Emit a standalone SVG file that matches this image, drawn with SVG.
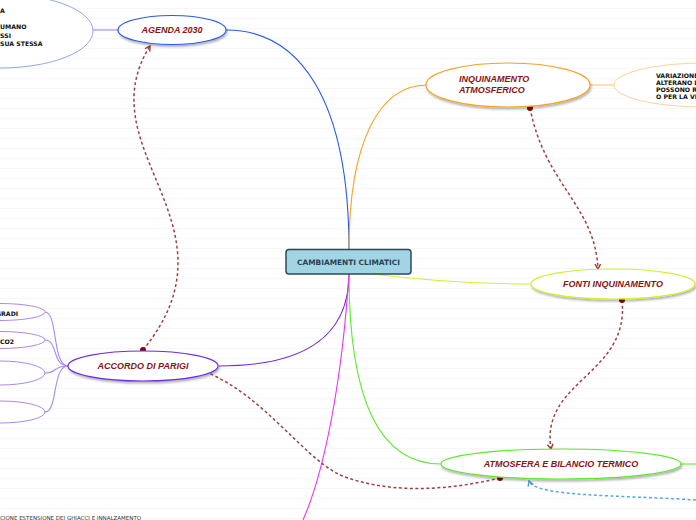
<svg xmlns="http://www.w3.org/2000/svg" width="696" height="520" viewBox="0 0 696 520">
<defs>
<pattern id="rule" width="696" height="10" patternUnits="userSpaceOnUse">
<rect width="696" height="10" fill="#ffffff"/>
<line x1="0" y1="8.5" x2="696" y2="8.5" stroke="#f7f7f7" stroke-width="1"/>
</pattern>
<filter id="sh" x="-10%" y="-30%" width="120%" height="170%">
<feDropShadow dx="1" dy="2" stdDeviation="1.3" flood-color="#000" flood-opacity="0.3"/>
</filter>
<marker id="arr" viewBox="0 0 10 10" refX="8" refY="5" markerWidth="7" markerHeight="7" orient="auto-start-reverse" markerUnits="userSpaceOnUse">
<path d="M1,1 L8,5 L1,9" fill="none" stroke="#a03a3a" stroke-width="2"/>
</marker>
<marker id="arrb" viewBox="0 0 10 10" refX="8" refY="5" markerWidth="7" markerHeight="7" orient="auto-start-reverse" markerUnits="userSpaceOnUse">
<path d="M1,1 L8,5 L1,9" fill="none" stroke="#4a9ad6" stroke-width="2"/>
</marker>
</defs>
<style>
.lbl{font-family:"Liberation Sans",Arial,sans-serif;font-size:9px;font-weight:bold;font-style:italic;fill:#8b1414}
.sm{font-family:"DejaVu Sans",Verdana,sans-serif;font-size:6.2px;font-weight:bold;fill:#111}
.tiny{font-family:"DejaVu Sans",Verdana,sans-serif;font-size:5.5px;fill:#333}
.el{fill:#ffffff;stroke-width:1.2}
.rel{fill:none;stroke:#a04040;stroke-width:1.5;stroke-dasharray:3 2.5}
.br{fill:none;stroke-width:1.1}
</style>
<rect width="696" height="520" fill="url(#rule)"/>

<g id="connectors">
<path class="br" stroke="#2a5ae8" d="M349,250 C349,100 300,30 226,30"/>
<path class="br" stroke="#f5a321" d="M349,250 C349,140 380,85 427,85"/>
<path class="br" stroke="#d4f02a" d="M372,274 C420,280 480,284 532,284"/>
<path class="br" stroke="#6a2ae8" d="M349,274 C349,340 300,366 219,366"/>
<path class="br" stroke="#5cea2c" d="M349,274 C349,400 380,464 441,464"/>
<path class="br" stroke="#ee33ee" d="M349,274 C342,380 325,470 303,520"/>
<path class="br" stroke="#5cea2c" d="M681,464 L696,464"/>
<path class="br" stroke="#9a86ee" d="M93,30 L118,30"/>
<path class="br" stroke="#fbc878" d="M590,85 L614,85"/>
<path class="br" stroke="#a98af0" d="M45,312 C58,312 52,366 68,366"/>
<path class="br" stroke="#a98af0" d="M45,340 C58,340 52,366 68,366"/>
<path class="br" stroke="#a98af0" d="M45,373 C58,373 52,366 68,366"/>
<path class="br" stroke="#a98af0" d="M45,412 C58,412 52,366 68,366"/>
<path class="rel" d="M143,350 C245,225 85,150 150,46" marker-end="url(#arr)"/>
<path class="rel" d="M530,108 C545,185 595,205 598,269" marker-end="url(#arr)"/>
<path class="rel" d="M622,300 C630,375 540,380 551,449" marker-end="url(#arr)"/>
<path class="rel" d="M500,478 C450,490 390,495 340,475 C300,455 260,390 198,369" marker-end="url(#arr)"/>
<path fill="none" stroke="#55a8e0" stroke-width="1.5" stroke-dasharray="3 2.5" d="M696,500 C620,495 535,497 529,481" marker-end="url(#arrb)"/>
<circle cx="143" cy="350" r="3" fill="#8b0a0a"/>
<circle cx="530" cy="108" r="3" fill="#8b0a0a"/>
<circle cx="622" cy="300" r="3" fill="#8b0a0a"/>
<circle cx="500" cy="478" r="3" fill="#8b0a0a"/>
</g>

<g id="n-left-top">
<ellipse cx="0" cy="31" rx="93" ry="37" fill="#fff" stroke="#8fa8f0" stroke-width="1"/>
<text class="sm" x="0" y="12.5">A</text>
<text class="sm" x="0" y="29">UMANO</text>
<text class="sm" x="0" y="37.5">SSI</text>
<text class="sm" x="0" y="46">SUA STESSA</text>
</g>

<g id="n-agenda">
<ellipse class="el" cx="172" cy="30" rx="54" ry="14.5" stroke="#2a5ae8" filter="url(#sh)"/>
<text class="lbl" x="172" y="33" text-anchor="middle">AGENDA 2030</text>
</g>

<g id="n-center">
<rect x="286" y="249.5" width="125" height="24.5" rx="3" fill="#a2d5e4" stroke="#2c4a58" stroke-width="1.5"/>
<text x="348.5" y="265" text-anchor="middle" font-family="DejaVu Sans,Verdana,sans-serif" font-size="7.4" font-weight="bold" fill="#2b4256">CAMBIAMENTI CLIMATICI</text>
</g>

<g id="n-inquinamento">
<ellipse class="el" cx="508" cy="85" rx="82" ry="22" stroke="#f5a321" filter="url(#sh)"/>
<text class="lbl" x="459" y="82">INQUINAMENTO</text>
<text class="lbl" x="459" y="93">ATMOSFERICO</text>
</g>

<g id="n-variazione">
<ellipse cx="704" cy="85" rx="90" ry="22" fill="#fff" stroke="#fbd49a" stroke-width="1"/>
<text class="sm" x="656" y="77.5">VARIAZIONE</text>
<text class="sm" x="656" y="84.5">ALTERANO LI</text>
<text class="sm" x="656" y="91.5">POSSONO RI</text>
<text class="sm" x="656" y="98.5">O PER LA VIT</text>
</g>

<g id="n-fonti">
<ellipse class="el" cx="613" cy="284" rx="82" ry="15" stroke="#d4f02a" filter="url(#sh)"/>
<text class="lbl" x="613" y="287" text-anchor="middle">FONTI INQUINAMENTO</text>
</g>

<g id="n-atmosfera">
<ellipse class="el" cx="561" cy="464" rx="120" ry="15" stroke="#5cea2c" filter="url(#sh)"/>
<text class="lbl" x="561" y="467" text-anchor="middle">ATMOSFERA E BILANCIO TERMICO</text>
</g>

<g id="n-accordo">
<ellipse class="el" cx="143" cy="366" rx="75" ry="15" stroke="#6a2ae8" filter="url(#sh)"/>
<text class="lbl" x="143" y="369" text-anchor="middle">ACCORDO DI PARIGI</text>
</g>

<g id="n-gradi">
<ellipse cx="0" cy="312" rx="45" ry="8.5" fill="#fff" stroke="#a98af0" stroke-width="1"/>
<text class="sm" x="-4" y="315.5">GRADI</text>
</g>
<g id="n-co2">
<ellipse cx="0" cy="340" rx="45" ry="8.5" fill="#fff" stroke="#a98af0" stroke-width="1"/>
<text class="sm" x="0" y="343.5">CO2</text>
</g>
<g id="n-left3">
<ellipse cx="0" cy="373" rx="45" ry="12" fill="#fff" stroke="#a98af0" stroke-width="1"/>
</g>
<g id="n-left4">
<ellipse cx="0" cy="412" rx="45" ry="11" fill="#fff" stroke="#a98af0" stroke-width="1"/>
</g>

<g id="n-bottom">
<text class="tiny" x="0" y="519.5">CIONE ESTENSIONE DEI GHIACCI E INNALZAMENTO</text>
</g>
</svg>
